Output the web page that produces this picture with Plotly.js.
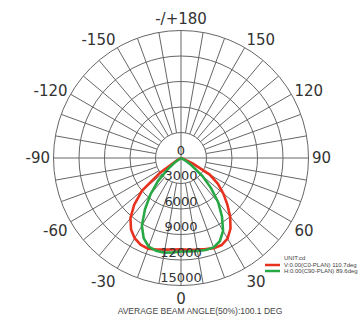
<!DOCTYPE html>
<html>
<head>
<meta charset="utf-8">
<script src="https://cdn.plot.ly/plotly-3.0.1.min.js"></script>
<style>
html,body{margin:0;padding:0;background:#fff;}
#chart{width:361px;height:321px;}
</style>
</head>
<body>
<div id="chart"></div>
<script>
// Angles (deg), 0 = straight down, positive to the right
const angles = [-90,-85,-80,-75,-70,-65,-60,-55,-50,-45,-40,-35,-30,-25,-20,-15,-10,-5,0,5,10,15,20,25,30,35,40,45,50,55,60,65,70,75,80,85,90];
// C0-plane intensity (cd), red
const c0Values = [0,0,0,0,0,100,500,3000,6000,7800,9250,10250,10900,11250,11350,11150,10950,10800,10750,10850,10950,11100,11300,11300,10950,10150,9000,7700,6500,5300,3900,1500,300,0,0,0,0];
// C90-plane intensity (cd), green
const c90Values = [0,0,0,0,0,0,0,800,2000,3800,5600,7400,9200,10400,11100,11300,11300,11150,11000,11050,11100,11200,11200,10800,9900,8400,6800,5000,3300,1500,600,100,0,0,0,0,0];

const seriesNames = ['V:0.00(C0-PLAN) 110.7deg', 'H:0.00(C90-PLAN) 89.6deg'];
const seriesColors = ['#e8321f', '#27a844'];
const radialTicks = [0,3000,6000,9000,12000,15000];
const angleTickVals = [0,30,60,90,120,150,180,210,240,270,300,330];
const angleTickText = ['0','30','60','90','120','150','-/+180','-150','-120','-90','-60','-30'];
const unitLabel = 'UNIT:cd';
const titleText = 'AVERAGE BEAM ANGLE(50%):100.1 DEG';

const W = 361, H = 321;
const px = x => x / W;
const py = y => 1 - y / H;
const gridColor = '#666666';
const rMax = radialTicks[radialTicks.length-1];

// spokes every 10 deg, starting at first ring; main axes through centre
const spR = [], spT = [];
for (let a = 0; a < 360; a += 10) {
  const main = (a % 90 === 0);
  spR.push(main ? 0 : radialTicks[1], rMax, null);
  spT.push(a, a, null);
}

const traces = [
  {type:'scatterpolar', r:spR, theta:spT, mode:'lines',
   line:{color:gridColor, width:1}, hoverinfo:'skip', showlegend:false},
  {type:'scatterpolar', r:c0Values, theta:angles, mode:'lines', name:seriesNames[0],
   line:{color:seriesColors[0], width:2.6}, showlegend:false},
  {type:'scatterpolar', r:c90Values, theta:angles, mode:'lines', name:seriesNames[1],
   line:{color:seriesColors[1], width:2.6}, showlegend:false},
  {type:'scatterpolar', r:radialTicks, theta:radialTicks.map(()=>0), mode:'text',
   text:radialTicks.map(String), textposition:'top center',
   textfont:{family:'DejaVu Sans', size:13, color:'#333'},
   hoverinfo:'skip', showlegend:false}
];

// small legend (drawn as annotations + swatches)
const legFont = {family:'Liberation Sans', size:6, color:'#444'};
const legRows = [265, 271];
const shapes = legRows.map((y,i) => ({type:'line', xref:'paper', yref:'paper',
  x0:px(265), x1:px(280), y0:py(y), y1:py(y), line:{color:seriesColors[i], width:2.5}}));
const annotations = [
  {text:unitLabel, xref:'paper', yref:'paper', x:px(282), y:py(258), xanchor:'left', yanchor:'middle',
   showarrow:false, font:legFont}
].concat(legRows.map((y,i) => ({text:seriesNames[i], xref:'paper', yref:'paper', x:px(282), y:py(y),
   xanchor:'left', yanchor:'middle', showarrow:false, font:legFont})));

const layout = {
  width:W, height:H,
  margin:{l:0,r:0,t:0,b:0},
  paper_bgcolor:'#ffffff',
  showlegend:false,
  font:{family:'DejaVu Sans', color:'#333'},
  title:{text:titleText, x:px(200), xanchor:'center', y:py(311.5), yanchor:'middle',
         font:{family:'Liberation Sans', size:8.5, color:'#444'}},
  shapes:shapes,
  annotations:annotations,
  polar:{
    domain:{x:[53.5/W, 308.5/W], y:[1-285.5/H, 1-30.5/H]},
    bgcolor:'#ffffff',
    radialaxis:{range:[0,rMax], tickvals:radialTicks.slice(1), showticklabels:false,
                ticks:'', showline:false, gridcolor:gridColor, gridwidth:1},
    angularaxis:{rotation:270, direction:'counterclockwise', tickvals:angleTickVals,
                 ticktext:angleTickText, showgrid:false, showline:true, linecolor:gridColor,
                 linewidth:1, ticks:'',
                 tickfont:{family:'DejaVu Sans', size:15, color:'#333'}}
  }
};

Plotly.newPlot('chart', traces, layout, {displayModeBar:false, staticPlot:true});
</script>
</body>
</html>
